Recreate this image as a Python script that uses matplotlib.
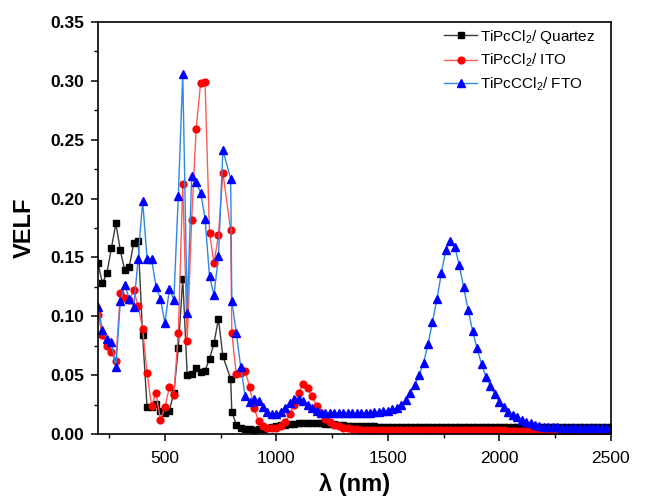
import matplotlib
matplotlib.use("Agg")
import matplotlib.pyplot as plt
from matplotlib.ticker import MultipleLocator, FormatStrFormatter

plt.rcParams["font.family"] = ["Liberation Sans", "DejaVu Sans"]
plt.rcParams["mathtext.fontset"] = "custom"
plt.rcParams["mathtext.rm"] = "Liberation Sans"
plt.rcParams["mathtext.it"] = "Liberation Sans:italic"
plt.rcParams["mathtext.bf"] = "Liberation Sans:bold"

# wavelength grid (nm); the 795 point comes from the detector changeover
wavelength = [
    200, 220, 240, 260, 280, 300, 320, 340, 360, 380,
    400, 420, 440, 460, 480, 500, 520, 540, 560, 580,
    600, 620, 640, 660, 680, 700, 720, 740, 760, 795,
    800, 820, 840, 860, 880, 900, 920, 940, 960, 980,
    1000, 1020, 1040, 1060, 1080, 1100, 1120, 1140, 1160, 1180,
    1200, 1220, 1240, 1260, 1280, 1300, 1320, 1340, 1360, 1380,
    1400, 1420, 1440, 1460, 1480, 1500, 1520, 1540, 1560, 1580,
    1600, 1620, 1640, 1660, 1680, 1700, 1720, 1740, 1760, 1780,
    1800, 1820, 1840, 1860, 1880, 1900, 1920, 1940, 1960, 1980,
    2000, 2020, 2040, 2060, 2080, 2100, 2120, 2140, 2160, 2180,
    2200, 2220, 2240, 2260, 2280, 2300, 2320, 2340, 2360, 2380,
    2400, 2420, 2440, 2460, 2480, 2500,
]

velf_quartz = [
    0.145, 0.128, 0.137, 0.158, 0.179, 0.156, 0.139, 0.142, 0.162, 0.164,
    0.084, 0.023, 0.023, 0.026, 0.020, 0.018, 0.020, 0.035, 0.073, 0.132,
    0.050, 0.051, 0.056, 0.053, 0.054, 0.064, 0.077, 0.098, 0.066, 0.047,
    0.019, 0.008, 0.005, 0.0044, 0.0040, 0.0038, 0.0040, 0.0045, 0.0050, 0.0058,
    0.0066, 0.0074, 0.0080, 0.0086, 0.0090, 0.0094, 0.0096, 0.0097, 0.0097, 0.0096,
    0.0094, 0.0090, 0.0086, 0.0082, 0.0078, 0.0075, 0.0072, 0.0070, 0.0069, 0.0068,
    0.0067, 0.0066, 0.0065, 0.0064, 0.0063, 0.0063, 0.0062, 0.0062, 0.0061, 0.0061,
    0.0061, 0.0060, 0.0060, 0.0060, 0.0060, 0.0060, 0.0059, 0.0059, 0.0059, 0.0059,
    0.0059, 0.0059, 0.0058, 0.0058, 0.0058, 0.0058, 0.0058, 0.0058, 0.0058, 0.0058,
    0.0058, 0.0058, 0.0058, 0.0058, 0.0058, 0.0058, 0.0058, 0.0058, 0.0058, 0.0058,
    0.0058, 0.0058, 0.0058, 0.0057, 0.0057, 0.0057, 0.0057, 0.0057, 0.0057, 0.0057,
    0.0057, 0.0057, 0.0057, 0.0057, 0.0057, 0.0057,
]

velf_ito = [
    0.101, 0.084, 0.075, 0.070, 0.062, 0.120, 0.116, 0.114, 0.122, 0.109,
    0.089, 0.052, 0.024, 0.035, 0.012, 0.023, 0.040, 0.033, 0.086, 0.212,
    0.079, 0.182, 0.259, 0.298, 0.299, 0.171, 0.145, 0.169, 0.222, 0.173,
    0.086, 0.051, 0.052, 0.054, 0.040, 0.022, 0.011, 0.0065, 0.0050, 0.0048,
    0.0050, 0.0068, 0.0105, 0.017, 0.025, 0.035, 0.0425, 0.039, 0.032, 0.024,
    0.0176, 0.0128, 0.0105, 0.0077, 0.0065, 0.0055, 0.0048, 0.0044, 0.0041, 0.0039,
    0.0037, 0.0036, 0.0035, 0.0035, 0.0034, 0.0034, 0.0034, 0.0033, 0.0033, 0.0033,
    0.0033, 0.0033, 0.0033, 0.0033, 0.0033, 0.0032, 0.0032, 0.0032, 0.0032, 0.0032,
    0.0032, 0.0032, 0.0032, 0.0032, 0.0032, 0.0032, 0.0031, 0.0031, 0.0031, 0.0031,
    0.0031, 0.0031, 0.0030, 0.0030, 0.0030, 0.0029, 0.0029, 0.0028, 0.0028, 0.0027,
    0.0027, 0.0026, 0.0026, 0.0025, 0.0025, 0.0024, 0.0024, 0.0023, 0.0023, 0.0022,
    0.0022, 0.0021, 0.0021, 0.0020, 0.0020, 0.0020,
]

velf_fto = [
    0.108, 0.088, 0.081, 0.078, 0.057, 0.113, 0.127, 0.115, 0.108, 0.149,
    0.198, 0.149, 0.149, 0.125, 0.115, 0.094, 0.123, 0.114, 0.202, 0.306,
    0.103, 0.219, 0.214, 0.205, 0.183, 0.134, 0.118, 0.151, 0.241, 0.217,
    0.113, 0.086, 0.057, 0.032, 0.0275, 0.0295, 0.0283, 0.0232, 0.019, 0.017,
    0.017, 0.019, 0.0218, 0.0266, 0.0295, 0.030, 0.028, 0.025, 0.022, 0.0195,
    0.018, 0.0178, 0.0178, 0.0178, 0.0178, 0.0178, 0.0178, 0.0178, 0.0179, 0.0179,
    0.018, 0.0182, 0.0185, 0.019, 0.0195, 0.020, 0.021, 0.022, 0.0245, 0.029,
    0.0351, 0.0417, 0.050, 0.0606, 0.0762, 0.0955, 0.1145, 0.1366, 0.1564, 0.1643,
    0.1592, 0.1437, 0.1247, 0.1054, 0.0878, 0.0728, 0.0595, 0.0487, 0.0411, 0.0337,
    0.0275, 0.0227, 0.019, 0.0162, 0.0142, 0.0119, 0.0102, 0.0091, 0.0079, 0.0068,
    0.0062, 0.0060, 0.0058, 0.0057, 0.0056, 0.0056, 0.0055, 0.0055, 0.0055, 0.0055,
    0.0055, 0.0055, 0.0055, 0.0055, 0.0055, 0.0055,
]

labels = [r"TiPcCl$_2$/ Quartez", r"TiPcCl$_2$/ ITO", r"TiPcCCl$_2$/ FTO"]

fig = plt.figure(figsize=(6.45, 4.99), dpi=100)
ax = fig.add_axes([0.152, 0.130, 0.795, 0.826])

ax.plot(wavelength, velf_quartz, color="#3a3a3a", lw=1.0, marker="s", ms=4.3,
        mfc="black", mec="black", label=labels[0])
ax.plot(wavelength, velf_ito, color="#ff5a5a", lw=1.0, marker="o", ms=4.9,
        mfc="red", mec="red", label=labels[1])
ax.plot(wavelength, velf_fto, color="#2f86e6", lw=1.0, marker="^", ms=5.3,
        mfc="blue", mec="blue", label=labels[2])

ax.set_xlim(200, 2500)
ax.set_ylim(0, 0.35)
ax.xaxis.set_major_locator(MultipleLocator(500))
ax.xaxis.set_minor_locator(MultipleLocator(250))
ax.yaxis.set_major_locator(MultipleLocator(0.05))
ax.yaxis.set_minor_locator(MultipleLocator(0.025))
ax.yaxis.set_major_formatter(FormatStrFormatter("%.2f"))

ax.tick_params(which="major", direction="out", length=5, width=1.1, pad=5,
               labelsize=12.5)
ax.tick_params(which="minor", direction="out", length=3, width=1.0)
ax.tick_params(axis="x", pad=7)
for lbl in ax.get_yticklabels():
    lbl.set_fontweight("bold")
for sp in ax.spines.values():
    sp.set_linewidth(1.2)

ax.set_xlabel(r"λ (nm)", fontsize=17, fontweight="bold", labelpad=5)
ax.set_ylabel("VELF", fontsize=17, fontweight="bold", labelpad=10)

ax.legend(loc="upper right", bbox_to_anchor=(0.978, 0.997), frameon=False,
          fontsize=11, numpoints=1, handlelength=2.2, handletextpad=0.15,
          labelspacing=0.4, borderaxespad=0.0, borderpad=0.3)

fig.savefig("out.png", dpi=100)
